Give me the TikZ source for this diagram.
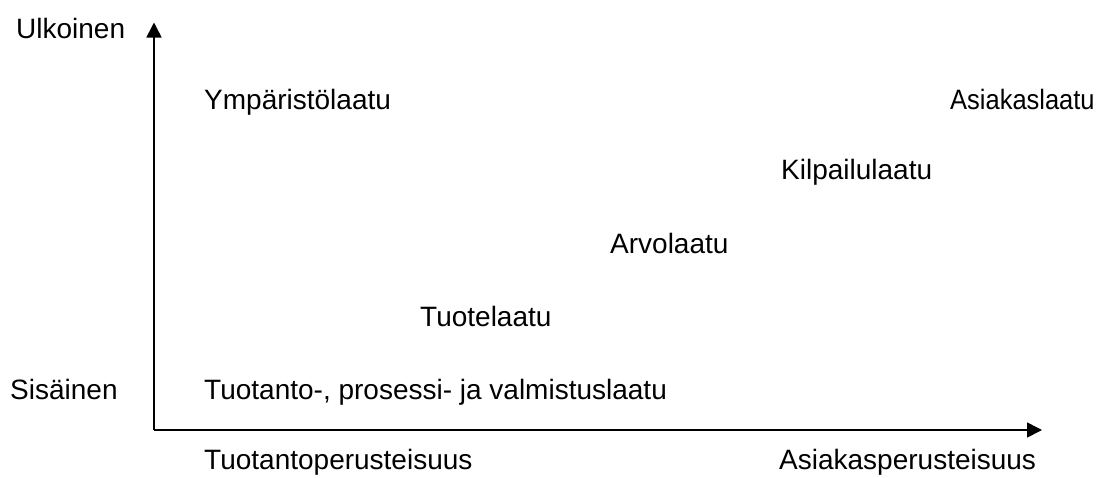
\documentclass[tikz,border=0pt]{standalone}
\usepackage{fontspec}
\setmainfont{Liberation Sans}
\usetikzlibrary{arrows.meta}
\begin{document}
\begin{tikzpicture}[x=1pt,y=-1pt,
  lbl/.style={anchor=base west,inner sep=0pt,font=\fontsize{28}{32}\selectfont},
  axis/.style={line width=1.6pt,-{Triangle[length=15pt,width=15pt]}}]
\useasboundingbox (0,0) rectangle (1098,477);
\coordinate (O) at (154,430);
\coordinate (Y) at (154,22.5);
\coordinate (X) at (1042,430);
\draw[axis] (O) -- (Y);
\draw[axis] (O) -- (X);
\node[lbl] (ulk) at (16,38) {Ulkoinen};
\node[lbl] (sis) at (10,399) {Sisäinen};
\node[lbl] (ymp) at (204,109.5) {Ympäristölaatu};
\node[lbl] (asi) at (950,109.5) {\scalebox{0.91}[1]{Asiakaslaatu}};
\node[lbl] (kil) at (781,179.5) {Kilpailulaatu};
\node[lbl] (arv) at (610,253.5) {Arvolaatu};
\node[lbl] (tuo) at (420,326.5) {Tuotelaatu};
\node[lbl] (tpv) at (204,399) {Tuotanto-, prosessi- ja valmistuslaatu};
\node[lbl] (tpe) at (204,469.5) {Tuotantoperusteisuus};
\node[lbl] (ape) at (779,469.5) {Asiakasperusteisuus};
\end{tikzpicture}
\end{document}
